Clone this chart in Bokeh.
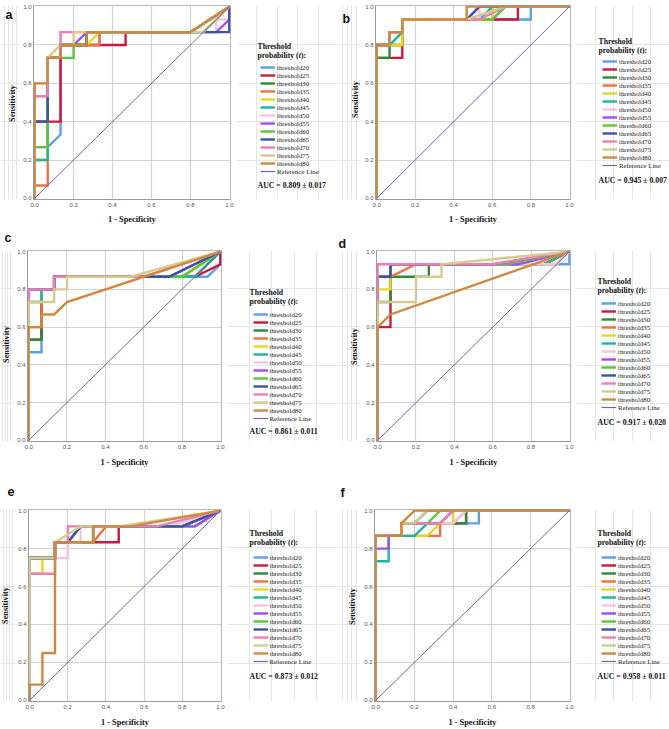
from bokeh.plotting import figure
from bokeh.layouts import column, row
from bokeh.models import Legend, LegendItem, Label, FixedTicker, Range1d, NumeralTickFormatter, Title
from bokeh.embed import file_html
from bokeh.resources import INLINE
import math

# ---------------- data ----------------
threshold_names = ["threshold20", "threshold25", "threshold30", "threshold35", "threshold40",
                   "threshold45", "threshold50", "threshold55", "threshold60", "threshold65",
                   "threshold70", "threshold75", "threshold80"]
reference_name = "Reference Line"
axis_ticks = [0.0, 0.2, 0.4, 0.6, 0.8, 1.0]
grid_ticks = [0.2, 0.4, 0.6, 0.8]
reference_fpr = [0.0, 1.0]
reference_tpr = [0.0, 1.0]

auc_texts = {"a": "AUC = 0.809 ± 0.017", "b": "AUC = 0.945 ± 0.007", "c": "AUC = 0.861 ± 0.011",
             "d": "AUC = 0.917 ± 0.020", "e": "AUC = 0.873 ± 0.012", "f": "AUC = 0.958 ± 0.011"}

a_fpr = [
    [0, 0, 0.067, 0.133, 0.133, 0.333, 0.333, 0.8, 1],
    [0, 0, 0.133, 0.133, 0.467, 0.467, 0.8, 1],
    [0, 0, 0.067, 0.067, 0.133, 0.133, 0.267, 0.267, 0.8, 1],
    [0, 0, 0.067, 0.067, 0.133, 0.133, 0.333, 0.333, 0.8, 1],
    [0, 0, 0.067, 0.067, 0.133, 0.133, 0.267, 0.333, 0.8, 1],
    [0, 0, 0.067, 0.067, 0.133, 0.133, 0.267, 0.267, 0.8, 1],
    [0, 0, 0.067, 0.067, 0.133, 0.133, 0.933, 0.933, 1, 1],
    [0, 0, 0.067, 0.067, 0.133, 0.133, 0.2, 0.267, 0.933, 1, 1],
    [0, 0, 0.067, 0.067, 0.2, 0.2, 0.267, 0.267, 0.867, 1],
    [0, 0, 0.067, 0.067, 0.133, 0.133, 0.267, 0.267, 1, 1],
    [0, 0, 0.067, 0.067, 0.133, 0.133, 0.2, 0.8, 1],
    [0, 0, 0.067, 0.067, 0.133, 0.2, 0.2, 0.867, 1],
    [0, 0, 0.067, 0.067, 0.133, 0.133, 0.267, 0.267, 0.8, 1],
]
a_tpr = [
    [0, 0.267, 0.267, 0.333, 0.8, 0.8, 0.867, 0.867, 1],
    [0, 0.4, 0.4, 0.8, 0.8, 0.867, 0.867, 1],
    [0, 0.4, 0.4, 0.733, 0.733, 0.8, 0.8, 0.867, 0.867, 1],
    [0, 0.067, 0.067, 0.733, 0.733, 0.8, 0.8, 0.867, 0.867, 1],
    [0, 0.2, 0.2, 0.733, 0.733, 0.8, 0.8, 0.867, 0.867, 1],
    [0, 0.2, 0.2, 0.733, 0.733, 0.8, 0.8, 0.867, 0.867, 1],
    [0, 0.533, 0.533, 0.733, 0.733, 0.867, 0.867, 0.933, 0.933, 1],
    [0, 0.533, 0.533, 0.733, 0.733, 0.8, 0.8, 0.867, 0.867, 0.933, 1],
    [0, 0.267, 0.267, 0.733, 0.733, 0.8, 0.8, 0.867, 0.867, 1],
    [0, 0.4, 0.4, 0.733, 0.733, 0.8, 0.8, 0.867, 0.867, 1],
    [0, 0.533, 0.533, 0.733, 0.733, 0.867, 0.867, 0.867, 1],
    [0, 0.6, 0.6, 0.733, 0.8, 0.8, 0.867, 0.867, 1],
    [0, 0.6, 0.6, 0.733, 0.733, 0.8, 0.8, 0.867, 0.867, 1],
]

b_fpr = [
    [0, 0, 0.067, 0.067, 0.133, 0.133, 0.8, 0.8, 1],
    [0, 0, 0.133, 0.133, 0.733, 0.733, 1],
    [0, 0, 0.067, 0.067, 0.133, 0.133, 0.6, 0.667, 1],
    [0, 0, 0.133, 0.133, 0.6, 0.6, 1],
    [0, 0, 0.133, 0.133, 0.6, 0.6, 1],
    [0, 0, 0.067, 0.133, 0.133, 0.533, 0.6, 1],
    [0, 0, 0.067, 0.067, 0.133, 0.133, 0.533, 0.533, 1],
    [0, 0, 0.067, 0.067, 0.133, 0.133, 0.467, 0.533, 1],
    [0, 0, 0.067, 0.067, 0.133, 0.133, 0.6, 0.667, 1],
    [0, 0, 0.067, 0.067, 0.133, 0.133, 0.467, 0.533, 1],
    [0, 0, 0.067, 0.067, 0.133, 0.133, 0.533, 0.667, 1],
    [0, 0, 0.067, 0.067, 0.133, 0.133, 0.467, 0.667, 1],
    [0, 0, 0.067, 0.067, 0.133, 0.133, 0.467, 0.467, 1],
]
b_tpr = [
    [0, 0.8, 0.8, 0.867, 0.867, 0.933, 0.933, 1, 1],
    [0, 0.733, 0.733, 0.933, 0.933, 1, 1],
    [0, 0.733, 0.733, 0.8, 0.8, 0.933, 0.933, 1, 1],
    [0, 0.8, 0.8, 0.933, 0.933, 1, 1],
    [0, 0.8, 0.8, 0.933, 0.933, 1, 1],
    [0, 0.8, 0.8, 0.867, 0.933, 0.933, 1, 1],
    [0, 0.8, 0.8, 0.867, 0.867, 0.933, 0.933, 1, 1],
    [0, 0.8, 0.8, 0.867, 0.867, 0.933, 0.933, 1, 1],
    [0, 0.8, 0.8, 0.867, 0.867, 0.933, 0.933, 1, 1],
    [0, 0.8, 0.8, 0.867, 0.867, 0.933, 0.933, 1, 1],
    [0, 0.8, 0.8, 0.867, 0.867, 0.933, 0.933, 1, 1],
    [0, 0.8, 0.8, 0.867, 0.867, 0.933, 0.933, 1, 1],
    [0, 0.8, 0.8, 0.867, 0.867, 0.933, 0.933, 1, 1],
]

c_fpr = [
    [0, 0, 0.067, 0.067, 0.133, 0.133, 0.933, 1, 1],
    [0, 0, 0.067, 0.067, 0.133, 0.133, 0.867, 1, 1],
    [0, 0, 0.067, 0.067, 0.133, 0.133, 0.867, 1],
    [0, 0, 0.067, 0.067, 0.133, 0.133, 0.8, 1],
    [0, 0, 0.067, 0.067, 0.133, 0.133, 0.8, 1],
    [0, 0, 0.067, 0.067, 0.133, 0.133, 0.867, 1],
    [0, 0, 0.133, 0.133, 0.733, 1],
    [0, 0, 0.133, 0.133, 0.733, 1],
    [0, 0, 0.133, 0.133, 0.8, 1],
    [0, 0, 0.133, 0.133, 0.733, 1],
    [0, 0, 0.133, 0.133, 0.6, 1],
    [0, 0, 0.133, 0.133, 0.2, 0.2, 0.533, 1],
    [0, 0, 0.067, 0.067, 0.133, 0.2, 1],
]
c_tpr = [
    [0, 0.467, 0.467, 0.8, 0.8, 0.867, 0.867, 0.933, 1],
    [0, 0.533, 0.533, 0.8, 0.8, 0.867, 0.867, 0.933, 1],
    [0, 0.533, 0.533, 0.8, 0.8, 0.867, 0.867, 1],
    [0, 0.6, 0.6, 0.8, 0.8, 0.867, 0.867, 1],
    [0, 0.733, 0.733, 0.8, 0.8, 0.867, 0.867, 1],
    [0, 0.733, 0.733, 0.8, 0.8, 0.867, 0.867, 1],
    [0, 0.8, 0.8, 0.867, 0.867, 1],
    [0, 0.8, 0.8, 0.867, 0.867, 1],
    [0, 0.8, 0.8, 0.867, 0.867, 1],
    [0, 0.8, 0.8, 0.867, 0.867, 1],
    [0, 0.8, 0.8, 0.867, 0.867, 1],
    [0, 0.733, 0.733, 0.8, 0.8, 0.867, 0.867, 1],
    [0, 0.6, 0.6, 0.667, 0.667, 0.733, 1],
]

d_fpr = [
    [0, 0, 0.067, 0.067, 1, 1],
    [0, 0, 0.067, 0.067, 0.867, 1],
    [0, 0, 0.067, 0.067, 0.267, 0.267, 0.867, 1],
    [0, 0, 0.067, 0.2, 0.933, 1],
    [0, 0, 0.067, 0.067, 0.933, 1],
    [0, 0, 0.067, 0.067, 0.867, 1],
    [0, 0, 0.067, 0.067, 0.933, 1],
    [0, 0, 0.067, 0.067, 0.733, 1],
    [0, 0, 0.067, 0.067, 0.667, 1],
    [0, 0, 0.067, 0.067, 0.6, 1],
    [0, 0, 0.6, 1],
    [0, 0, 0.2, 0.2, 0.333, 0.333, 1],
    [0, 0, 0.067, 1],
]
d_tpr = [
    [0, 0.867, 0.867, 0.933, 0.933, 1],
    [0, 0.6, 0.6, 0.933, 0.933, 1],
    [0, 0.733, 0.733, 0.867, 0.867, 0.933, 0.933, 1],
    [0, 0.867, 0.867, 0.933, 0.933, 1],
    [0, 0.8, 0.8, 0.933, 0.933, 1],
    [0, 0.867, 0.867, 0.933, 0.933, 1],
    [0, 0.867, 0.867, 0.933, 0.933, 1],
    [0, 0.867, 0.867, 0.933, 0.933, 1],
    [0, 0.867, 0.867, 0.933, 0.933, 1],
    [0, 0.867, 0.867, 0.933, 0.933, 1],
    [0, 0.933, 0.933, 1],
    [0, 0.733, 0.733, 0.867, 0.867, 0.933, 1],
    [0, 0.6, 0.667, 1],
]

e_fpr = [
    [0, 0, 0.133, 0.133, 0.333, 0.333, 0.867, 1],
    [0, 0, 0.133, 0.133, 0.467, 0.467, 0.8, 1],
    [0, 0, 0.133, 0.133, 0.333, 0.333, 0.8, 1],
    [0, 0, 0.133, 0.133, 0.333, 0.4, 0.8, 1],
    [0, 0, 0.067, 0.067, 0.133, 0.133, 0.333, 0.333, 0.8, 1],
    [0, 0, 0.133, 0.133, 0.333, 0.333, 0.8, 1],
    [0, 0, 0.2, 0.2, 0.267, 0.267, 0.733, 1],
    [0, 0, 0.133, 0.133, 0.2, 0.267, 0.867, 1],
    [0, 0, 0.133, 0.133, 0.2, 0.267, 0.8, 1],
    [0, 0, 0.133, 0.133, 0.2, 0.267, 0.8, 1],
    [0, 0, 0.133, 0.133, 0.2, 0.2, 0.667, 1],
    [0, 0, 0.133, 0.133, 0.267, 0.467, 1],
    [0, 0, 0.067, 0.067, 0.133, 0.133, 0.333, 0.333, 0.533, 1],
]
e_tpr = [
    [0, 0.75, 0.75, 0.833, 0.833, 0.917, 0.917, 1],
    [0, 0.75, 0.75, 0.833, 0.833, 0.917, 0.917, 1],
    [0, 0.75, 0.75, 0.833, 0.833, 0.917, 0.917, 1],
    [0, 0.75, 0.75, 0.833, 0.833, 0.917, 0.917, 1],
    [0, 0.667, 0.667, 0.75, 0.75, 0.833, 0.833, 0.917, 0.917, 1],
    [0, 0.75, 0.75, 0.833, 0.833, 0.917, 0.917, 1],
    [0, 0.75, 0.75, 0.833, 0.833, 0.917, 0.917, 1],
    [0, 0.75, 0.75, 0.833, 0.833, 0.917, 0.917, 1],
    [0, 0.75, 0.75, 0.833, 0.833, 0.917, 0.917, 1],
    [0, 0.75, 0.75, 0.833, 0.833, 0.917, 0.917, 1],
    [0, 0.667, 0.667, 0.833, 0.833, 0.917, 0.917, 1],
    [0, 0.75, 0.75, 0.833, 0.917, 0.917, 1],
    [0, 0.083, 0.083, 0.25, 0.25, 0.833, 0.833, 0.917, 0.917, 1],
]

f_fpr = [
    [0, 0, 0.133, 0.133, 0.533, 0.533, 1],
    [0, 0, 0.133, 0.133, 0.467, 0.467, 1],
    [0, 0, 0.133, 0.133, 0.467, 0.467, 1],
    [0, 0, 0.333, 0.333, 0.4, 0.467, 1],
    [0, 0, 0.267, 0.333, 0.4, 0.4, 1],
    [0, 0, 0.067, 0.067, 0.2, 0.267, 0.333, 0.4, 1],
    [0, 0, 0.133, 0.133, 0.4, 0.467, 1],
    [0, 0, 0.067, 0.067, 0.133, 0.133, 0.333, 0.4, 1],
    [0, 0, 0.133, 0.133, 0.267, 0.333, 1],
    [0, 0, 0.133, 0.133, 0.2, 0.267, 1],
    [0, 0, 0.133, 0.133, 0.333, 0.4, 1],
    [0, 0, 0.133, 0.133, 0.2, 0.267, 1],
    [0, 0, 0.133, 0.133, 0.2, 1],
]
f_tpr = [
    [0, 0.867, 0.867, 0.933, 0.933, 1, 1],
    [0, 0.867, 0.867, 0.933, 0.933, 1, 1],
    [0, 0.867, 0.867, 0.933, 0.933, 1, 1],
    [0, 0.867, 0.867, 0.933, 0.933, 1, 1],
    [0, 0.867, 0.867, 0.933, 0.933, 1, 1],
    [0, 0.733, 0.733, 0.867, 0.867, 0.933, 0.933, 1, 1],
    [0, 0.867, 0.867, 0.933, 0.933, 1, 1],
    [0, 0.8, 0.8, 0.867, 0.867, 0.933, 0.933, 1, 1],
    [0, 0.867, 0.867, 0.933, 0.933, 1, 1],
    [0, 0.867, 0.867, 0.933, 0.933, 1, 1],
    [0, 0.867, 0.867, 0.933, 0.933, 1, 1],
    [0, 0.867, 0.867, 0.933, 0.933, 1, 1],
    [0, 0.867, 0.867, 0.933, 1, 1],
]

# ---------------- styles ----------------
COLORS = ["#5ba0e8", "#d2153c", "#2b8a35", "#f2703e", "#e6d820", "#1eb4a2", "#f7c4dd",
          "#a24cf0", "#5cc43e", "#3a54a6", "#f07db4", "#d5cb8e", "#d0883f"]
REF_COLOR = "#7d5ca8"
SERIF = "Liberation Serif"
SANS = "Liberation Sans"
TITLE_SIZE = 7.7
LETTER_SIZE = 12.5

# geometry in page pixels.  Each row: (y0, height, frame top, frame bottom, x-label standoff)
ROWS = {"a": (0, 226, 5, 201, 5), "b": (0, 226, 5, 201, 5),
        "c": (226, 243, 250, 443, 6), "d": (226, 243, 250, 443, 6),
        "e": (469, 260, 509, 701, 6), "f": (469, 260, 509, 701, 6)}
# strip/plot/lgd = (x0, width); frame_lr = (L, R)
GEOM = {
    "a": dict(strip=(0, 20), plot=(20, 216), lgd=(236, 102), frame_lr=(33, 230),
              title=(257, 48), leg=(260, 65.3), auc=(257, 187), ylab=(12, 105),
              letter=dict(kind="label", x=5, base=16.7)),
    "b": dict(strip=(338, 22), plot=(360, 216), lgd=(576, 93), frame_lr=(375, 570),
              title=(598, 43), leg=(602, 59), auc=(598, 182), ylab=(354.5, 101),
              letter=dict(kind="label", x=342, base=20.7)),
    "c": dict(strip=(0, 12), plot=(12, 215), lgd=(227, 111), frame_lr=(27, 221),
              title=(249, 294), leg=(252.5, 312), auc=(249, 433), ylab=(5.5, 346),
              letter=dict(kind="title", x=4, valign="top", standoff=7)),
    "d": dict(strip=(338, 22), plot=(360, 216), lgd=(576, 93), frame_lr=(376, 570),
              title=(597, 283), leg=(601, 301), auc=(597, 424), ylab=(353.5, 348),
              letter=dict(kind="title", x=338, valign="bottom", standoff=0)),
    "e": dict(strip=(0, 15), plot=(15, 212), lgd=(227, 111), frame_lr=(26, 221),
              title=(249, 533), leg=(252.5, 553), auc=(249, 676), ylab=(5, 605),
              letter=dict(kind="title", x=7, valign="top", standoff=23)),
    "f": dict(strip=(338, 22), plot=(360, 216), lgd=(576, 93), frame_lr=(374, 570),
              title=(597, 533), leg=(601, 553), auc=(597, 676), ylab=(351.5, 606),
              letter=dict(kind="title", x=340, valign="bottom", standoff=19)),
}


def blank_fig(w, rowinfo):
    y0, h, T, B, _ = rowinfo
    p = figure(width=w, height=h, output_backend="svg", toolbar_location=None, title=None,
               x_range=Range1d(10, 11), y_range=Range1d(10, 11),
               x_axis_location=None, y_axis_location=None, min_border=0)
    p.min_border_left = 0
    p.min_border_right = 0
    p.min_border_top = T - y0
    p.min_border_bottom = y0 + h - B
    p.outline_line_color = None
    p.background_fill_color = "white"
    p.border_fill_color = "white"
    return p


def text_label(x, y, text, size, style="bold", font=SERIF, align="left", baseline="middle", angle=0.0):
    return Label(x=x, y=y, x_units="screen", y_units="screen", text=text, text_font=font,
                 text_font_size=f"{size}px", text_font_style=style, text_color="#111111",
                 text_align=align, text_baseline=baseline, angle=angle)


def make_panel(key, fprs, tprs):
    g = GEOM[key]
    rinfo = ROWS[key]
    ry0, rh, T, B, xl_standoff = rinfo

    # ---- left strip: panel letter + y-axis title
    sx0, sw = g["strip"]
    ps = blank_fig(sw, rinfo)
    lt = g["letter"]
    if lt["kind"] == "label":
        ps.add_layout(text_label(lt["x"] - sx0, B - lt["base"], key, LETTER_SIZE, font=SANS,
                                 baseline="alphabetic"))
    else:
        ps.add_layout(Title(text=key, align="left", vertical_align=lt["valign"], offset=lt["x"] - sx0,
                            standoff=lt["standoff"], text_font=SANS, text_font_size=f"{LETTER_SIZE}px",
                            text_font_style="bold", text_color="#111111"), "above")
    yx, yy = g["ylab"]
    ps.add_layout(text_label(yx - sx0, B - yy, "Sensitivity", 8.3, align="center", angle=math.pi / 2))

    # ---- plot
    px0, pw = g["plot"]
    L, R = g["frame_lr"]
    p = figure(width=pw, height=rh, output_backend="svg", toolbar_location=None,
               x_range=Range1d(-0.006, 1.006), y_range=Range1d(-0.006, 1.006),
               min_border_left=L - px0, min_border_right=px0 + pw - R,
               min_border_top=T - ry0, min_border_bottom=ry0 + rh - B)
    p.background_fill_color = "white"
    p.border_fill_color = "white"
    p.outline_line_color = "#b8b8b8"
    p.outline_line_width = 1
    for ax in (p.xaxis[0], p.yaxis[0]):
        ax.ticker = FixedTicker(ticks=axis_ticks)
        ax.formatter = NumeralTickFormatter(format="0.0")
        ax.major_tick_line_color = None
        ax.minor_tick_line_color = None
        ax.major_tick_out = 0
        ax.major_tick_in = 0
        ax.major_label_standoff = 3
        ax.major_label_text_font = SANS
        ax.major_label_text_font_size = "6px"
        ax.major_label_text_color = "#555555"
        ax.axis_line_color = "#9a9a9a"
        ax.axis_label_text_font = SERIF
        ax.axis_label_text_font_style = "bold"
        ax.axis_label_text_font_size = "8.3px"
        ax.axis_label_text_color = "#111111"
        ax.axis_label_standoff = xl_standoff
    p.yaxis[0].major_label_standoff = 2
    p.xaxis.axis_label = "1 - Specificity"
    p.xgrid.ticker = FixedTicker(ticks=grid_ticks)
    p.ygrid.ticker = FixedTicker(ticks=grid_ticks)
    p.grid.grid_line_color = "#d2d2d2"
    p.grid.grid_line_width = 1.2
    for xs, ys, col in zip(fprs, tprs, COLORS):
        p.line(xs, ys, line_color=col, line_width=2.4, line_join="miter")
    p.line(reference_fpr, reference_tpr, line_color=REF_COLOR, line_width=1)

    # ---- legend column
    gx0, gw = g["lgd"]
    pl = blank_fig(gw, rinfo)
    rends = []
    for xs, ys, col in zip(fprs, tprs, COLORS):
        rends.append(pl.line(xs, ys, line_color=col, line_width=2.4))
    rends.append(pl.line(reference_fpr, reference_tpr, line_color=REF_COLOR, line_width=1.2))
    names = threshold_names + [reference_name]
    items = [LegendItem(label=n, renderers=[r]) for n, r in zip(names, rends)]
    lx, ltop = g["leg"]
    leg = Legend(items=items, location=(lx - gx0, B - (ltop + 8 * len(items))),
                 glyph_width=15, glyph_height=8, label_height=8, label_width=10,
                 spacing=0, padding=0, margin=0, label_standoff=2,
                 label_text_font=SERIF, label_text_font_size="6.8px", label_text_color="#222222",
                 border_line_color=None, background_fill_alpha=0)
    pl.add_layout(leg)

    tx, ty = g["title"]
    s = TITLE_SIZE
    pl.add_layout(text_label(tx - gx0, B - ty, "Threshold", s))
    y2 = B - (ty + 8.8)
    pl.add_layout(text_label(tx - gx0, y2, "probability (", s))
    pl.add_layout(text_label(tx - gx0 + 5.362 * s, y2, "t", s, style="bold italic"))
    pl.add_layout(text_label(tx - gx0 + (5.362 + 0.278) * s, y2, "):", s))
    ax_, ay_ = g["auc"]
    pl.add_layout(text_label(ax_ - gx0, B - ay_, auc_texts[key], 7.8))
    return [ps, p, pl]


row1 = row(*(make_panel("a", a_fpr, a_tpr) + make_panel("b", b_fpr, b_tpr)), spacing=0)
row2 = row(*(make_panel("c", c_fpr, c_tpr) + make_panel("d", d_fpr, d_tpr)), spacing=0)
row3 = row(*(make_panel("e", e_fpr, e_tpr) + make_panel("f", f_fpr, f_tpr)), spacing=0)
layout = column(row1, row2, row3, spacing=0)

open("out.html", "w").write(file_html(layout, INLINE))
